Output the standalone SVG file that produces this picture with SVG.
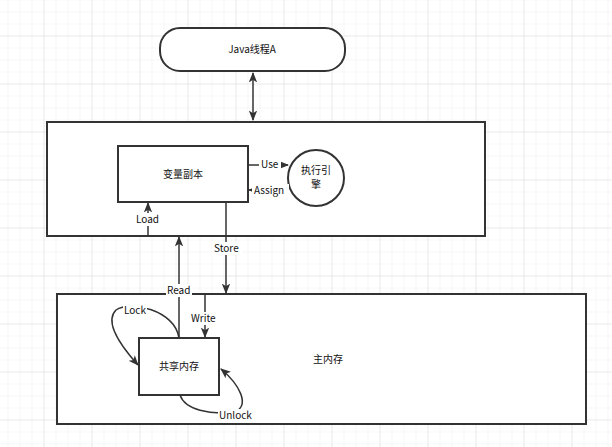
<svg xmlns="http://www.w3.org/2000/svg" width="612" height="447" viewBox="0 0 612 447">
<defs>
<pattern id="minor" width="12" height="12" patternUnits="userSpaceOnUse" x="7.5" y="11.5"><path d="M0 0H12M0 0V12" fill="none" stroke="#efefef" stroke-width="1"/></pattern>
<pattern id="major" width="48" height="48" patternUnits="userSpaceOnUse" x="43.5" y="35.5"><path d="M0 0H48M0 0V48" fill="none" stroke="#e0e0e0" stroke-width="1"/></pattern>
<marker id="a" viewBox="0 0 10 10" refX="9" refY="5" markerWidth="7" markerHeight="7" orient="auto-start-reverse"><path d="M0 1L10 5L0 9L2.5 5Z" fill="#333"/></marker>
</defs>
<style>
.b{fill:#fff;stroke:#333;stroke-width:2}
.c{fill:none;stroke:#333;stroke-width:1.5;marker-end:url(#a)}
text{font-family:"Noto Sans CJK SC","Liberation Sans",sans-serif;font-size:10px;fill:#111}
.l{text-anchor:middle}
.lb{fill:#fff}
</style>
<rect width="612" height="447" fill="#fff"/>
<rect width="612" height="447" fill="url(#minor)"/>
<rect width="612" height="447" fill="url(#major)"/>
<g id="javaA"><rect class="b" x="160" y="28" width="185" height="43" rx="20"/><text class="l" x="252" y="53">Java线程A</text></g>
<g id="work"><rect class="b" x="47" y="122" width="438" height="114"/></g>
<g id="copy"><rect class="b" x="118" y="146" width="130" height="56"/><text class="l" x="183" y="178">变量副本</text></g>
<g id="engine"><circle class="b" cx="316" cy="178" r="28"/><text class="l" x="316" y="174">执行引</text><text class="l" x="316" y="188">擎</text></g>
<g id="main"><rect class="b" x="57" y="294" width="529" height="130"/><text class="l" x="328" y="363">主内存</text></g>
<g id="shared"><rect class="b" x="139" y="338" width="80" height="57"/><text class="l" x="179" y="370">共享内存</text></g>
<g id="connectors">
<path class="c" d="M253 73V120" marker-start="url(#a)"/>
<path class="c" d="M248 165H288"/>
<path class="c" d="M289 190H249"/>
<path class="c" d="M148 236V203"/>
<path class="c" d="M226 202V293"/>
<path class="c" d="M179 338V237"/>
<path class="c" d="M205 294V337"/>
<path class="c" d="M179 338C175 310 130 300 116 310C104 322 120 345 138 365"/>
<path class="c" d="M180 395C185 410 210 415 235 412C250 405 240 385 221 369"/>
<rect class="lb" x="259" y="158" width="22" height="13"/><text x="261" y="168">Use</text>
<rect class="lb" x="252" y="184" width="37" height="13"/><text x="254" y="194">Assign</text>
<rect class="lb" x="134" y="213" width="28" height="13"/><text x="136" y="223">Load</text>
<rect class="lb" x="212" y="242" width="30" height="13"/><text x="214" y="252">Store</text>
<rect class="lb" x="166" y="284" width="26" height="13"/><text x="167" y="294">Read</text>
<rect class="lb" x="190" y="312" width="30" height="13"/><text x="191" y="322">Write</text>
<rect class="lb" x="123" y="304" width="24" height="13"/><text x="124" y="314">Lock</text>
<rect class="lb" x="218" y="409" width="36" height="13"/><text x="219" y="419">Unlock</text>
</g>
</svg>
